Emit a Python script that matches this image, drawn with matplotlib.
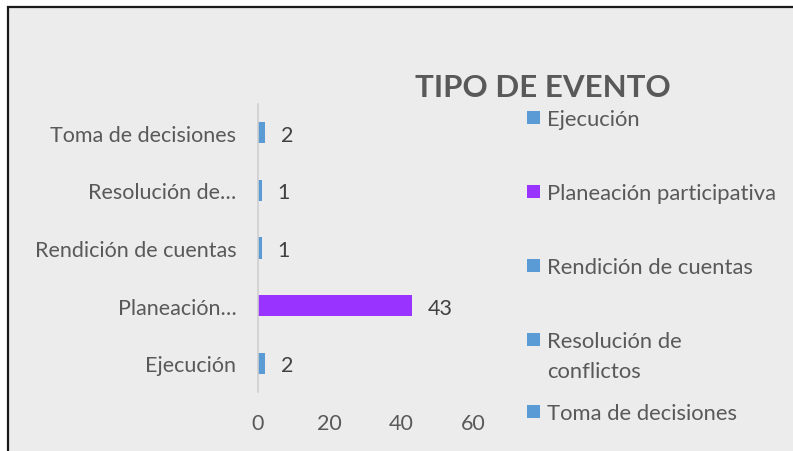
import matplotlib
matplotlib.use("Agg")
import matplotlib.pyplot as plt
from matplotlib.patches import Rectangle

categories = ["Ejecución", "Planeación…", "Rendición de cuentas", "Resolución de…", "Toma de decisiones"]
values = [2, 43, 1, 1, 2]
bar_colors = ["#5b9bd5", "#9933ff", "#5b9bd5", "#5b9bd5", "#5b9bd5"]
legend_labels = ["Ejecución", "Planeación participativa", "Rendición de cuentas",
                 "Resolución de\nconflictos", "Toma de decisiones"]
xticks = [0, 20, 40, 60]
title = "TIPO DE EVENTO"

plt.rcParams['font.family'] = ['Lato', 'DejaVu Sans']
txt = "#595959"
bg = "#ececec"
fs = 15.5

fig = plt.figure(figsize=(7.93, 4.52), dpi=100, facecolor="white")
W, H = 793, 452
bgrect = Rectangle((7.5 / W, -0.1), 1.2, 1.1 - 7.5 / H, transform=fig.transFigure,
                   facecolor=bg, edgecolor="#1a1a1a", linewidth=1.6, zorder=-10)
fig.patches.append(bgrect)

ax = fig.add_axes([258 / W, 1 - 393 / H, 215 / W, 288 / H])
ax.set_zorder(5)
ax.set_facecolor("none")
y = list(range(len(categories)))
ax.barh(y, values, height=0.37, color=bar_colors)
ax.set_xlim(0, 60)
ax.set_ylim(-0.5, 4.5)
ax.set_yticks(y)
ax.set_yticklabels(categories, fontsize=fs, color=txt)
ax.set_xticks(xticks)
ax.set_xticklabels([str(t) for t in xticks], fontsize=fs, color=txt)
for s in ["top", "right", "bottom"]:
    ax.spines[s].set_visible(False)
ax.spines["left"].set_color("#d0d0d0")
ax.spines["left"].set_linewidth(1.2)
ax.tick_params(axis="both", length=0)
ax.tick_params(axis="y", pad=15.5)
ax.tick_params(axis="x", pad=15)
for yi, v in zip(y, values):
    ax.annotate(str(v), (v, yi), xytext=(16, 0), textcoords="offset pixels",
                va="center_baseline", ha="left", fontsize=fs, color="#404040")

fig.text(543 / W, 1 - 88 / H, title, ha="center", va="center", fontsize=22.5,
         fontweight="bold", color=txt)

leg_y = [118, 192, 266, 340, 412]
for lab, c, ly in zip(legend_labels, bar_colors, leg_y):
    fig.patches.append(Rectangle((527 / W, 1 - (ly + 7) / H), 13 / W, 13 / H,
                                 transform=fig.transFigure, facecolor=c, edgecolor="none"))
    fig.text(547 / W, 1 - (ly - 8) / H, lab, ha="left", va="top", fontsize=15.8,
             color=txt, linespacing=1.6)

fig.savefig("out.png", dpi=100, facecolor="white")
